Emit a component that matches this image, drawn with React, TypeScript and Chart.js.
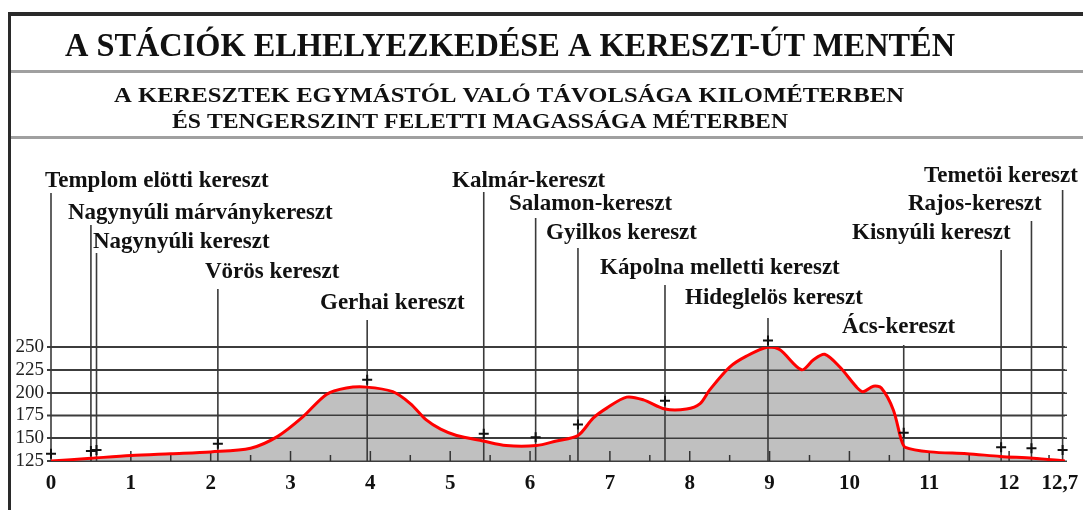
import React, { useEffect, useRef } from 'react';
import { Chart, registerables } from 'chart.js';

Chart.register(...registerables);

// ---- Texts ----
const TITLE = 'A STÁCIÓK ELHELYEZKEDÉSE A KERESZT-ÚT MENTÉN';
const SUBTITLE_1 = 'A KERESZTEK EGYMÁSTÓL VALÓ TÁVOLSÁGA KILOMÉTERBEN';
const SUBTITLE_2 = 'ÉS TENGERSZINT FELETTI MAGASSÁGA MÉTERBEN';

// ---- Elevation profile (km, m) ----
const profileKm = [
  0, 0.5, 1, 1.5, 2, 2.5, 2.84, 3.15, 3.45, 3.7, 3.95, 4.28, 4.5, 4.7, 4.88, 5.08, 5.41, 5.7, 6.08, 6.33,
  6.6, 6.79, 6.96, 7.21, 7.42, 7.69, 7.96, 8.13, 8.25, 8.5, 8.71, 8.98, 9.13, 9.4, 9.55, 9.69, 9.88, 10.09,
  10.17, 10.3, 10.4, 10.55, 10.65, 10.7, 11.01, 11.47, 11.89, 12.3, 12.7,
];
const profileElev = [
  125, 128, 131, 133, 135, 139, 152, 173, 198, 205, 206, 201, 188, 170, 160, 153, 147, 142, 142, 147,
  153, 172, 183, 195, 192, 182, 182, 188, 203, 228, 240, 250, 247, 225, 236, 242, 228, 206,
  201, 207, 205, 181, 148, 140, 135, 133, 130, 128, 125,
];

// ---- Stations (crosses) ----
const stationNames = [
  'Templom elötti kereszt',
  'Nagynyúli márványkereszt',
  'Nagynyúli kereszt',
  'Vörös kereszt',
  'Gerhai kereszt',
  'Kalmár-kereszt',
  'Salamon-kereszt',
  'Gyilkos kereszt',
  'Kápolna melletti kereszt',
  'Hideglelös kereszt',
  'Ács-kereszt',
  'Kisnyúli kereszt',
  'Rajos-kereszt',
  'Temetöi kereszt',
];
const stationKm = [0, 0.5, 0.57, 2.09, 3.96, 5.42, 6.07, 6.6, 7.69, 8.98, 10.68, 11.9, 12.28, 12.67];
const stationElev = [133, 136, 137, 144, 214, 155, 151, 165, 191, 257, 156, 140, 139, 137];

// ---- Axis ticks ----
const xTickValues = [0, 1, 2, 3, 4, 5, 6, 7, 8, 9, 10, 11, 12, 12.7];
const xTickLabels = ['0', '1', '2', '3', '4', '5', '6', '7', '8', '9', '10', '11', '12', '12,7'];
const yTickValues = [125, 150, 175, 200, 225, 250];

// ---- Layout of station labels (pixels) ----
const labelLeft = [45, 68, 93, 205, 320, 452, 509, 546, 600, 685, 842, 852, 908, 924];
const labelMidY = [181, 213, 242, 272, 303, 181, 204, 233, 268, 298, 327, 233, 204, 176];
const lineTopY = [193, 225, 253, 289, 320, 192, 218, 248, 285, 318, 345, 250, 221, 190];

const SERIF = '"Liberation Serif", "Times New Roman", serif';

function fitText(ctx: CanvasRenderingContext2D, text: string, x: number, y: number, w: number, font: string) {
  ctx.save();
  ctx.font = font;
  const m = ctx.measureText(text).width;
  ctx.translate(x, y);
  ctx.scale(w / m, 1);
  ctx.textAlign = 'left';
  ctx.textBaseline = 'alphabetic';
  ctx.fillText(text, 0, 0);
  ctx.restore();
}

const decorPlugin = {
  id: 'decor',
  beforeDraw(chart: any) {
    const ctx: CanvasRenderingContext2D = chart.ctx;
    const W = chart.width;
    const H = chart.height;
    ctx.save();
    ctx.fillStyle = '#ffffff';
    ctx.fillRect(0, 0, W, H);
    // frame
    ctx.fillStyle = '#2a2a2a';
    ctx.fillRect(8, 12, W - 8, 4);
    ctx.fillRect(8, 12, 3, H - 12);
    // separators
    ctx.fillStyle = '#a0a0a0';
    ctx.fillRect(11, 70, W - 11, 3);
    ctx.fillRect(11, 136, W - 11, 3);
    // headings
    ctx.fillStyle = '#111';
    fitText(ctx, TITLE, 65, 56, 890, `bold 34px ${SERIF}`);
    fitText(ctx, SUBTITLE_1, 114, 102, 790, `bold 22px ${SERIF}`);
    fitText(ctx, SUBTITLE_2, 172, 128, 616, `bold 22px ${SERIF}`);
    // station labels
    ctx.font = `bold 23px ${SERIF}`;
    ctx.textAlign = 'left';
    ctx.textBaseline = 'middle';
    stationNames.forEach((n, i) => {
      ctx.fillText(n, labelLeft[i], labelMidY[i]);
    });
    ctx.restore();
  },
  afterDatasetDraw(chart: any, args: any) {
    if (args.index !== 0) return;
    const ctx: CanvasRenderingContext2D = chart.ctx;
    const xs = chart.scales.x;
    const ys = chart.scales.y;
    const area = chart.chartArea;
    ctx.save();
    // horizontal grid over the fill
    ctx.strokeStyle = '#3c3c3c';
    ctx.lineWidth = 1.5;
    yTickValues.forEach((v) => {
      const py = Math.round(ys.getPixelForValue(v)) + 0.25;
      ctx.beginPath();
      ctx.moveTo(area.left - 4, py);
      ctx.lineTo(area.right + 2, py);
      ctx.stroke();
    });
    // small ticks every half km
    ctx.strokeStyle = '#333';
    ctx.lineWidth = 1.5;
    for (let k = 1; k <= 25; k++) {
      const km = k * 0.5;
      const px = xs.getPixelForValue(km);
      const len = k % 2 === 0 ? 10 : 6;
      ctx.beginPath();
      ctx.moveTo(px, area.bottom);
      ctx.lineTo(px, area.bottom - len);
      ctx.stroke();
    }
    // station vertical lines
    ctx.strokeStyle = '#3a3a3a';
    ctx.lineWidth = 1.6;
    stationKm.forEach((km, i) => {
      const px = xs.getPixelForValue(km);
      ctx.beginPath();
      ctx.moveTo(px, lineTopY[i]);
      ctx.lineTo(px, area.bottom);
      ctx.stroke();
    });
    ctx.restore();
  },
};

export default function App() {
  const ref = useRef<HTMLCanvasElement | null>(null);

  useEffect(() => {
    if (!ref.current) return;
    const profile = profileKm.map((x, i) => ({ x, y: profileElev[i] }));
    const crosses = stationKm.map((x, i) => ({ x, y: stationElev[i] }));
    const chart = new Chart(ref.current, {
      type: 'line',
      data: {
        datasets: [
          {
            label: 'terep',
            data: profile,
            borderWidth: 0,
            borderColor: 'rgba(0,0,0,0)',
            backgroundColor: '#c0c0c0',
            fill: 'start',
            pointRadius: 0,
            tension: 0.3,
            order: 3,
          },
          {
            label: 'magasság',
            data: profile,
            borderColor: '#ff0000',
            borderWidth: 3,
            fill: false,
            pointRadius: 0,
            tension: 0.3,
            order: 2,
          },
          {
            label: 'keresztek',
            data: crosses,
            showLine: false,
            pointStyle: 'cross',
            pointRadius: 5,
            pointBorderWidth: 2,
            pointBorderColor: '#111',
            pointBackgroundColor: '#111',
            clip: false as any,
            order: 1,
          },
        ],
      },
      options: {
        animation: false,
        responsive: false,
        events: [],
        layout: { padding: { left: 0, top: 347, right: 18, bottom: 0 } },
        plugins: {
          legend: { display: false },
          tooltip: { enabled: false },
          title: { display: false },
        },
        scales: {
          x: {
            type: 'linear',
            min: 0,
            max: 12.7,
            afterBuildTicks: (s: any) => {
              s.ticks = xTickValues.map((v) => ({ value: v }));
            },
            afterFit: (s: any) => {
              s.height = 49;
              s.paddingLeft = 0;
              s.paddingRight = 0;
            },
            grid: { display: false, drawTicks: false },
            border: { display: false },
            ticks: {
              autoSkip: false,
              maxRotation: 0,
              padding: 10,
              color: '#111',
              font: { family: SERIF, size: 21, weight: 'bold' },
              callback: (_v: any, i: number) =>
                i === xTickLabels.length - 1 ? xTickLabels[i] + '\u2002' : xTickLabels[i],
            },
          },
          y: {
            type: 'linear',
            min: 125,
            max: 250,
            afterBuildTicks: (s: any) => {
              s.ticks = yTickValues.map((v) => ({ value: v }));
            },
            afterFit: (s: any) => {
              s.width = 51;
              s.paddingTop = 0;
              s.paddingBottom = 0;
            },
            grid: { color: '#3c3c3c', lineWidth: 1.5, tickLength: 4 },
            border: { display: false },
            ticks: {
              autoSkip: false,
              padding: 3,
              color: '#222',
              font: { family: SERIF, size: 19 },
            },
          },
        },
      },
      plugins: [decorPlugin],
    } as any);
    return () => chart.destroy();
  }, []);

  return (
    <div style={{ position: 'absolute', left: 0, top: 0, width: 1083, height: 510 }}>
      <canvas ref={ref} width={1083} height={510} style={{ display: 'block' }} />
    </div>
  );
}
